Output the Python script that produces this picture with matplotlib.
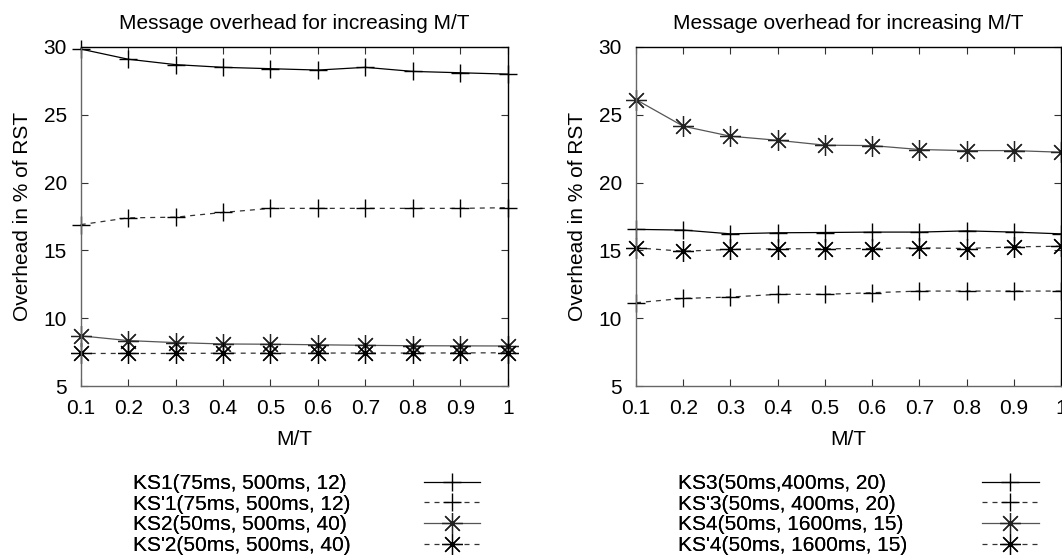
import matplotlib
matplotlib.use("Agg")
import matplotlib.pyplot as plt

plt.rcParams['font.family'] = ['Liberation Sans', 'DejaVu Sans']

mt = [0.1, 0.2, 0.3, 0.4, 0.5, 0.6, 0.7, 0.8, 0.9, 1.0]
x_ticks = [0.1, 0.2, 0.3, 0.4, 0.5, 0.6, 0.7, 0.8, 0.9, 1]
x_ticklabels = ["0.1", "0.2", "0.3", "0.4", "0.5", "0.6", "0.7", "0.8", "0.9", "1"]
y_ticks = [5, 10, 15, 20, 25, 30]

# left panel
ks1 = [29.85, 29.1, 28.7, 28.5, 28.4, 28.3, 28.5, 28.2, 28.1, 28.0]
ks1p = [16.9, 17.4, 17.45, 17.8, 18.1, 18.1, 18.1, 18.1, 18.1, 18.15]
ks2 = [8.7, 8.35, 8.2, 8.1, 8.08, 8.04, 8.0, 7.97, 7.96, 7.95]
ks2p = [7.4, 7.4, 7.4, 7.42, 7.42, 7.43, 7.43, 7.43, 7.44, 7.45]
# right panel
ks3 = [16.55, 16.5, 16.22, 16.3, 16.32, 16.35, 16.35, 16.44, 16.35, 16.22]
ks3p = [11.14, 11.46, 11.56, 11.76, 11.76, 11.88, 12.0, 12.0, 12.0, 12.0]
ks4 = [26.12, 24.16, 23.42, 23.12, 22.76, 22.73, 22.44, 22.36, 22.36, 22.24]
ks4p = [15.19, 14.94, 15.07, 15.12, 15.12, 15.14, 15.19, 15.14, 15.26, 15.31]

labels_left = ["KS1(75ms, 500ms, 12)", "KS'1(75ms, 500ms, 12)",
               "KS2(50ms, 500ms, 40)", "KS'2(50ms, 500ms, 40)"]
labels_right = ["KS3(50ms,400ms, 20)", "KS'3(50ms, 400ms, 20)",
                "KS4(50ms, 1600ms, 15)", "KS'4(50ms, 1600ms, 15)"]

FS = 15
W, H = 1062, 558
ASTER = (8, 2, 0)

fig = plt.figure(figsize=(W / 100, H / 100), dpi=100)
ax1 = fig.add_axes([80.7 / W, 1 - 386 / H, 427 / W, 339 / H])
ax2 = fig.add_axes([636 / W, 1 - 386 / H, 425 / W, 339 / H])


def style(ax):
    ax.set_xlim(0.1, 1)
    ax.set_ylim(5, 30)
    ax.set_xticks(x_ticks)
    ax.set_xticklabels(x_ticklabels)
    ax.set_yticks(y_ticks)
    ax.tick_params(direction='in', top=True, right=True, length=5, width=0.8,
                   labelsize=FS, color='#333333')
    ax.tick_params(axis='x', pad=9.4)
    ax.tick_params(axis='y', pad=10)
    for s in ('top', 'right'):
        ax.spines[s].set_color('black')
    for s in ('left', 'bottom'):
        ax.spines[s].set_color('#666666')
    for s in ax.spines.values():
        s.set_linewidth(1.0)
    ax.set_title("Message overhead for increasing M/T", fontsize=FS, pad=13)
    ax.set_xlabel("M/T", fontsize=FS, labelpad=8.9)
    ax.set_ylabel("Overhead in % of RST", fontsize=FS, labelpad=8.5)


def draw(ax, a, ap, b, bp):
    lines = []
    lines += ax.plot(mt, a, color='black', lw=0.9, marker='+', ms=13, mew=1.0, clip_on=False)
    lines += ax.plot(mt, ap, color='#333333', lw=0.9, dashes=(4, 4), marker='+', ms=13,
                     mew=1.0, mec='black', clip_on=False)
    lines += ax.plot(mt, b, color='#555555', lw=0.9, marker=ASTER, ms=15, mew=0.9,
                     mec='#222222', clip_on=False)
    lines += ax.plot(mt, bp, color='#333333', lw=0.9, dashes=(4, 4), marker=ASTER, ms=15,
                     mew=0.9, mec='black', clip_on=False)
    return lines


h1 = draw(ax1, ks1, ks1p, ks2, ks2p)
h2 = draw(ax2, ks3, ks3p, ks4, ks4p)
style(ax1)
style(ax2)


def add_legend(handles, labels, text_x, handle_x):
    top = 1 - 474 / H
    common = dict(loc='upper left', frameon=False, fontsize=FS, borderpad=0,
                  borderaxespad=0, labelspacing=0.08, handleheight=0.7)
    lt = fig.legend(handles, labels, bbox_to_anchor=(text_x / W, top),
                    handlelength=0, handletextpad=0, **common)
    for h in lt.legend_handles:
        h.set_visible(False)
    fig.legend(handles, [''] * len(handles), bbox_to_anchor=(handle_x / W, top),
               handlelength=2.7, handletextpad=0, **common)
    fig.add_artist(lt)


add_legend(h1, labels_left, 132.7, 424)
add_legend(h2, labels_right, 678.3, 982.3)

plt.savefig('out.png', dpi=100)
